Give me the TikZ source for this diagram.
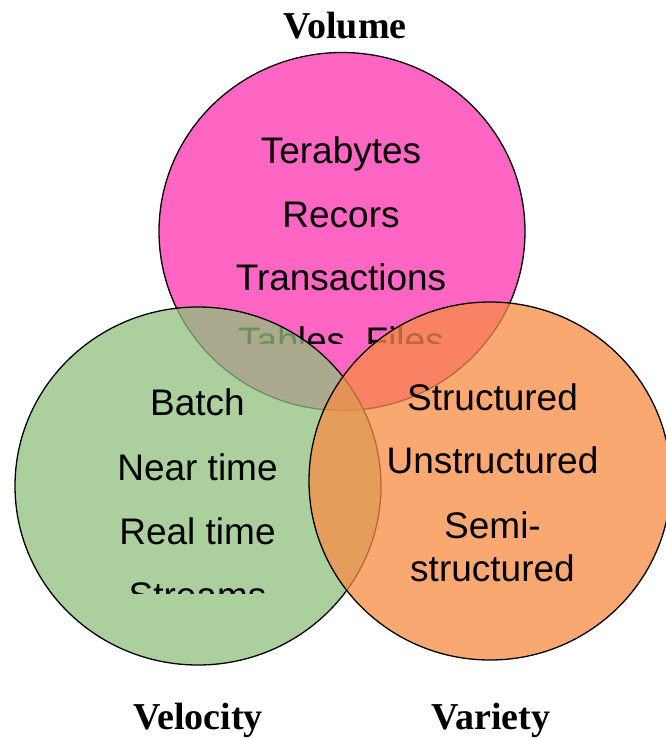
\documentclass[tikz,border=0pt]{standalone}
\usepackage{fontspec}
\setmainfont{Liberation Serif}
\newfontfamily\arialf{Liberation Sans}
\usetikzlibrary{shapes.geometric}
\definecolor{volpink}{RGB}{255,102,196}
\definecolor{velgreen}{RGB}{145,193,125}
\definecolor{varorange}{RGB}{248,140,68}
\begin{document}
\begin{tikzpicture}[x=1pt,y=-1pt,
  setcircle/.style={ellipse, draw=black, line width=1.3pt, inner sep=0pt},
  item/.style={font=\arialf\fontsize{37}{44}\selectfont, anchor=base, inner sep=0pt},
  settitle/.style={font=\bfseries\fontsize{38}{44}\selectfont, anchor=base, inner sep=0pt}]
\useasboundingbox[fill=white] (0,0) rectangle (666,740);

% Volume
\node[setcircle, fill=volpink, minimum width=366pt, minimum height=358pt] (vol) at (342,231.5) {};
\begin{scope}
  \clip (150,60) rectangle (540,343);
  \node[item] (t1) at (341,163) {Terabytes};
  \node[item] (t2) at (341,227) {Recors};
  \node[item] (t3) at (341,290) {Transactions};
  \node[item] (t4) at (341,353) {Tables, Files};
\end{scope}

% Velocity
\node[setcircle, fill=velgreen, fill opacity=0.75, minimum width=366pt, minimum height=358pt] (vel) at (198,486) {};
\begin{scope}
  \clip (20,370) rectangle (380,593);
  \node[item] (b1) at (197.5,415) {Batch};
  \node[item] (b2) at (197.5,480) {Near time};
  \node[item] (b3) at (197.5,544) {Real time};
  \node[item] (b4) at (197.5,608) {Streams};
\end{scope}

% Variety
\node[setcircle, fill=varorange, fill opacity=0.75, minimum width=362pt, minimum height=358pt] (var) at (490,481) {};
\node[item] (s1) at (492.5,410) {Structured};
\node[item] (s2) at (492.5,473) {Unstructured};
\node[item] (s3) at (492.5,538) {Semi-};
\node[item] (s4) at (492.5,581) {structured};

% Titles
\node[settitle] (tvol) at (345,38) {Volume};
\node[settitle] (tvel) at (198,729) {Velocity};
\node[settitle] (tvar) at (491,729) {Variety};
\end{tikzpicture}
\end{document}
